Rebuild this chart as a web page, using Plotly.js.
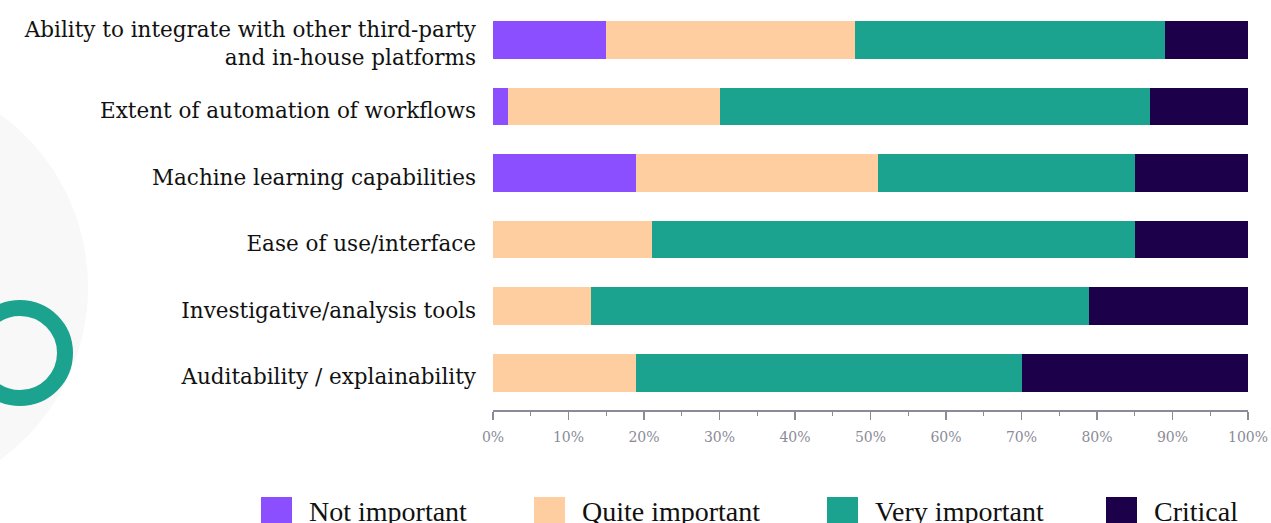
<!DOCTYPE html>
<html>
<head>
<meta charset="utf-8">
<script src="https://cdn.plot.ly/plotly-3.0.1.min.js"></script>
<style>html,body{margin:0;padding:0;background:#fff;}#chart{width:1271px;height:523px;}</style>
</head>
<body>
<div id="chart"></div>
<script>
// ---- data ----
var categories = [
  "Ability to integrate with other third-party<br>and in-house platforms",
  "Extent of automation of workflows",
  "Machine learning capabilities",
  "Ease of use/interface",
  "Investigative/analysis tools",
  "Auditability / explainability"
];
var seriesNames = ["Not important", "Quite important", "Very important", "Critical"];
var notImportant   = [15, 2, 19, 0, 0, 0];
var quiteImportant = [33, 28, 32, 21, 13, 19];
var veryImportant  = [41, 57, 34, 64, 66, 51];
var critical       = [11, 13, 15, 15, 21, 30];
var xTickValues = [0, 10, 20, 30, 40, 50, 60, 70, 80, 90, 100];

var colors = ["#8c4fff", "#fecda0", "#1ba38f", "#1c004a"];
var seriesValues = [notImportant, quiteImportant, veryImportant, critical];

// ---- geometry (pixels) ----
var W = 1271, H = 523;
var mL = 493, mR = 23, mT = 10, mB = 112.5;
var plotW = W - mL - mR, plotH = H - mT - mB;
function px2paperX(px){ return (px - mL) / plotW; }
function py2paperY(py){ return (H - mB - py) / plotH; }

var traces = seriesNames.map(function(name, i){
  return {
    type: "bar",
    orientation: "h",
    name: name,
    y: categories,
    x: seriesValues[i],
    width: 0.57,
    marker: {color: colors[i], line: {width: 0}},
    hoverinfo: "x+y+name",
    showlegend: false
  };
});

var shapes = [];
// decorative background circle and ring
var ax0 = px2paperX(0), ay0 = py2paperY(0);
shapes.push({type: "circle", layer: "below", xref: "paper", yref: "paper",
  xsizemode: "pixel", ysizemode: "pixel", xanchor: ax0, yanchor: ay0,
  x0: -340, x1: 88, y0: -501, y1: -73,
  fillcolor: "#f8f8f8", line: {width: 0}});
shapes.push({type: "circle", layer: "below", xref: "paper", yref: "paper",
  xsizemode: "pixel", ysizemode: "pixel", xanchor: ax0, yanchor: ay0,
  x0: -25, x1: 65, y0: -398, y1: -308,
  fillcolor: "rgba(0,0,0,0)", line: {width: 16, color: "#1ba38f"}});

// custom legend
var legendSquareX = [261, 534, 827, 1106];
var annotations = [];
seriesNames.forEach(function(name, i){
  shapes.push({type: "rect", xref: "paper", yref: "paper",
    xsizemode: "pixel", ysizemode: "pixel", xanchor: ax0, yanchor: ay0,
    x0: legendSquareX[i], x1: legendSquareX[i] + 31, y0: -528, y1: -497,
    fillcolor: colors[i], line: {width: 0}});
  annotations.push({xref: "paper", yref: "paper",
    x: px2paperX(legendSquareX[i] + 46), y: py2paperY(512),
    xanchor: "left", yanchor: "middle", showarrow: false,
    text: name, font: {family: "Liberation Serif, serif", size: 28, color: "#111"}});
});

var layout = {
  width: W, height: H,
  margin: {l: mL, r: mR, t: mT, b: mB, pad: 0},
  paper_bgcolor: "#ffffff",
  plot_bgcolor: "rgba(0,0,0,0)",
  barmode: "stack",
  showlegend: false,
  xaxis: {
    range: [0, 100],
    tickvals: xTickValues,
    ticktext: xTickValues.map(function(v){ return v + "%"; }),
    ticks: "outside", ticklen: 8, tickwidth: 1.5, tickcolor: "#8b8b98",
    minor: {dtick: 5, tick0: 0, ticks: "outside", ticklen: 4, tickwidth: 1.2, tickcolor: "#8b8b98", showgrid: false},
    showline: true, linecolor: "#8b8b98", linewidth: 1.5,
    showgrid: false, zeroline: false,
    tickfont: {family: "DejaVu Serif, serif", size: 14, color: "#8b8b98"},
    ticklabelstandoff: 6,
    fixedrange: true
  },
  yaxis: {
    type: "category",
    range: [5.563, -0.45],
    showgrid: false, zeroline: false, showline: false,
    ticks: "",
    ticklabelstandoff: 16,
    ticklabelshift: -4,
    tickfont: {family: "DejaVu Serif, serif", size: 21.5, color: "#111111"},
    fixedrange: true
  },
  shapes: shapes,
  annotations: annotations,
  font: {family: "DejaVu Serif, serif"}
};

Plotly.newPlot("chart", traces, layout, {displayModeBar: false, staticPlot: true});
</script>
</body>
</html>
